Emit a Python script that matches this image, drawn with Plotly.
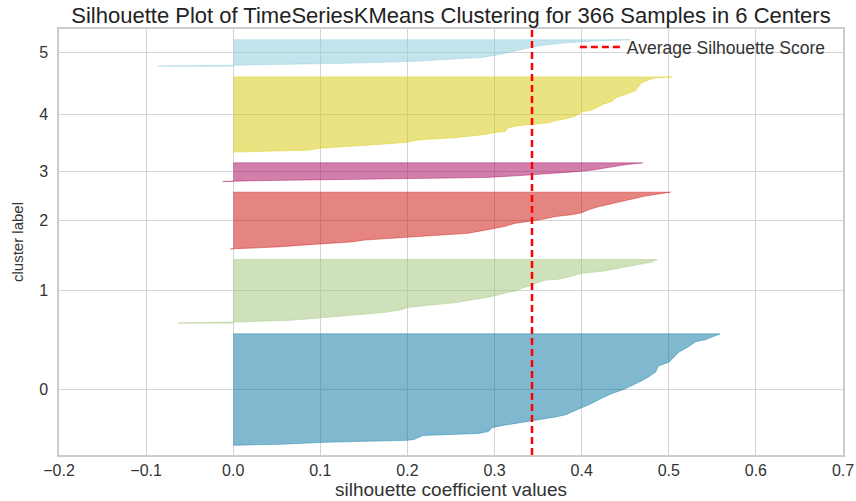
import plotly.graph_objects as go

# ---- data ----
cluster_labels = ["0", "1", "2", "3", "4", "5"]
cluster_sizes = [115, 66, 59, 20, 78, 28]
cluster_colors = ["#0272a2", "#9fc377", "#ca0b03", "#a50258", "#d7c703", "#88cada"]

# sorted silhouette values (sample index within cluster -> value), read at breakpoints
c0_idx = [0, 1, 3, 5, 6, 10, 11, 12, 14, 18, 20, 22, 24, 25, 27, 29, 31, 34, 37, 40, 43, 48, 53, 57, 61, 66, 70, 75, 81, 85, 90, 95, 100, 106, 108, 111, 114]
c0_val = [0.005, 0.055, 0.105, 0.20, 0.208, 0.218, 0.258, 0.281, 0.293, 0.297, 0.308, 0.323, 0.335, 0.343, 0.36, 0.37, 0.381, 0.389, 0.398, 0.404, 0.412, 0.423, 0.435, 0.448, 0.458, 0.469, 0.477, 0.485, 0.488, 0.50, 0.506, 0.511, 0.521, 0.531, 0.542, 0.55, 0.559]

c1_idx = [0, 1, 2, 3, 5, 7, 9, 11, 14, 16, 18, 20, 21, 24, 26, 29, 31, 33, 36, 38, 41, 44, 45, 47, 49, 51, 53, 55, 57, 60, 62, 65]
c1_val = [-0.063, 0.003, 0.041, 0.068, 0.095, 0.125, 0.152, 0.175, 0.194, 0.2, 0.221, 0.240, 0.256, 0.275, 0.29, 0.305, 0.313, 0.325, 0.332, 0.34, 0.348, 0.359, 0.374, 0.384, 0.393, 0.4, 0.424, 0.436, 0.451, 0.466, 0.478, 0.487]

c2_idx = [0, 1, 2, 5, 7, 9, 10, 12, 14, 16, 19, 21, 23, 26, 28, 30, 33, 35, 37, 40, 43, 46, 48, 51, 54, 56, 58]
c2_val = [-0.003, 0.028, 0.051, 0.10, 0.135, 0.151, 0.17, 0.20, 0.235, 0.27, 0.289, 0.30, 0.312, 0.323, 0.339, 0.354, 0.37, 0.389, 0.40, 0.408, 0.419, 0.435, 0.446, 0.458, 0.473, 0.488, 0.502]

c3_idx = [0, 1, 2, 3, 4, 6, 8, 10, 12, 15, 17, 19]
c3_val = [-0.012, 0.045, 0.12, 0.2, 0.29, 0.33, 0.37, 0.395, 0.415, 0.435, 0.45, 0.47]

c4_idx = [0, 1, 2, 4, 6, 8, 10, 12, 13, 15, 18, 20, 21, 25, 27, 30, 32, 34, 37, 41, 43, 46, 49, 52, 56, 59, 63, 67, 71, 74, 76, 77]
c4_val = [0.0, 0.04, 0.086, 0.10, 0.143, 0.17, 0.20, 0.208, 0.22, 0.258, 0.289, 0.30, 0.312, 0.316, 0.327, 0.362, 0.37, 0.381, 0.393, 0.40, 0.412, 0.419, 0.425, 0.435, 0.44, 0.45, 0.462, 0.465, 0.469, 0.477, 0.485, 0.504]

c5_idx = [0, 1, 3, 5, 7, 9, 12, 16, 18, 21, 24, 26, 27]
c5_val = [-0.086, 0.003, 0.133, 0.21, 0.248, 0.287, 0.306, 0.325, 0.337, 0.352, 0.383, 0.421, 0.456]

avg_score = 0.343
x_ticks = [-0.2, -0.1, 0.0, 0.1, 0.2, 0.3, 0.4, 0.5, 0.6, 0.7]

cluster_idx = [c0_idx, c1_idx, c2_idx, c3_idx, c4_idx, c5_idx]
cluster_val = [c0_val, c1_val, c2_val, c3_val, c4_val, c5_val]


def rgba(hexc, a):
    h = hexc.lstrip("#")
    return "rgba(%d,%d,%d,%s)" % (int(h[0:2], 16), int(h[2:4], 16), int(h[4:6], 16), a)


fig = go.Figure()
y_lower = 10
tick_pos = []
for k in range(len(cluster_labels)):
    size = cluster_sizes[k]
    idx = cluster_idx[k]
    val = cluster_val[k]
    ys = [y_lower + idx[0]] + [y_lower + i for i in idx] + [y_lower + idx[-1]]
    xs = [0.0] + list(val) + [0.0]
    fig.add_trace(go.Scatter(
        x=xs, y=ys, mode="lines", fill="toself",
        fillcolor=rgba(cluster_colors[k], 0.5),
        line=dict(color=rgba(cluster_colors[k], 0.5), width=0.8),
        showlegend=False, hoverinfo="skip"))
    tick_pos.append(y_lower + 0.5 * size)
    y_lower = y_lower + size + 10
y_max = y_lower

fig.add_trace(go.Scatter(
    x=[avg_score, avg_score], y=[0, y_max], mode="lines",
    line=dict(color="#ff0000", width=2.5, dash="7px,4px"),
    name="Average Silhouette Score", showlegend=True))

font_family = "Arial, Liberation Sans, sans-serif"
fig.update_layout(
    width=856, height=501,
    margin=dict(l=59, r=13, t=29, b=46, autoexpand=False),
    paper_bgcolor="white", plot_bgcolor="white",
    font=dict(family=font_family, color="#333333", size=16),
    title=dict(text="Silhouette Plot of TimeSeriesKMeans Clustering for 366 Samples in 6 Centers",
               xref="paper", x=0.5, xanchor="center",
               yref="container", y=0.97, yanchor="middle",
               font=dict(size=22, color="#222222")),
    showlegend=True,
    legend=dict(x=0.658, y=1.0, xanchor="left", yanchor="top",
                bgcolor="rgba(255,255,255,0)", borderwidth=0, itemwidth=42,
                font=dict(size=17.5, color="#333333")),
)
fig.update_xaxes(
    range=[-0.2, 0.7], tickvals=x_ticks,
    ticktext=[("−%.1f" % abs(v)) if v < 0 else ("%.1f" % v) for v in x_ticks],
    showgrid=True, gridcolor="#d4d4d4", gridwidth=1.3,
    showline=True, linecolor="#cccccc", linewidth=1.5, mirror=True,
    zeroline=False, ticks="", ticklabelstandoff=0, automargin=False,
    title=dict(text="silhouette coefficient values", font=dict(size=19), standoff=1),
)
fig.update_yaxes(
    range=[0, y_max], tickvals=tick_pos, ticktext=cluster_labels,
    showgrid=True, gridcolor="#d4d4d4", gridwidth=1.3,
    showline=True, linecolor="#cccccc", linewidth=1.5, mirror=True,
    zeroline=False, ticks="", ticklabelstandoff=6, automargin=False,
    title=dict(text="cluster label", font=dict(size=15), standoff=12),
)

fig.write_html("out.html")
